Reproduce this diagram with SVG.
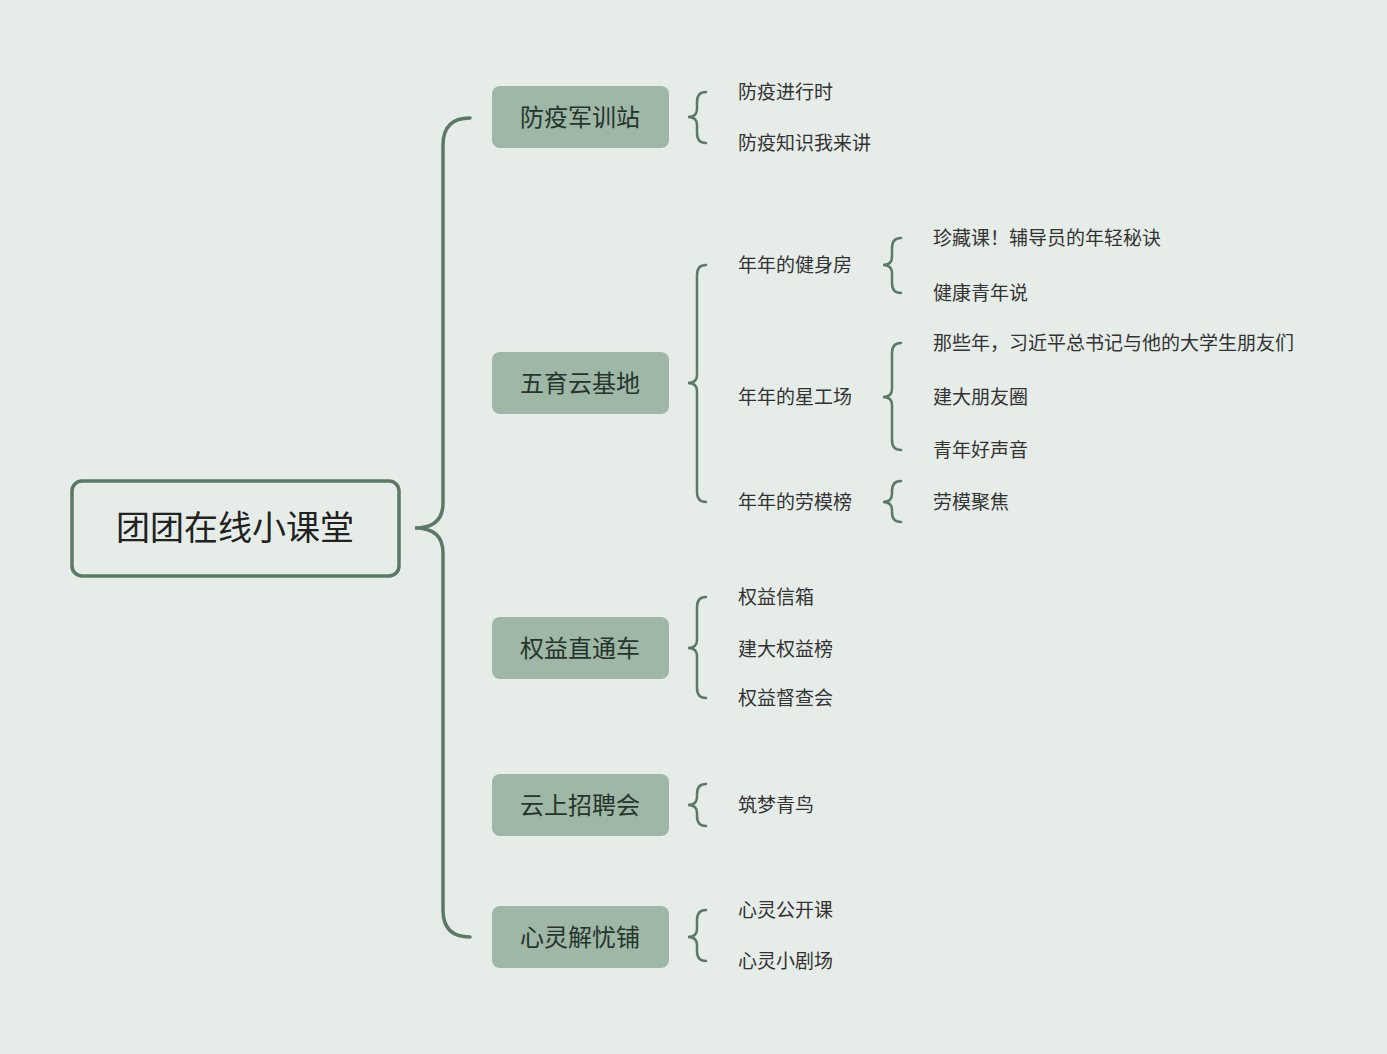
<svg xmlns="http://www.w3.org/2000/svg" width="1387" height="1054" viewBox="0 0 1387 1054">
<style>
.c{fill:none;stroke:#5b7a66;stroke-width:2.5;stroke-linecap:round}
.m{fill:none;stroke:#5b7a66;stroke-width:3.5;stroke-linecap:round}
.b{fill:#9fb7a6}
.t1{font-family:"Noto Sans CJK SC",sans-serif;font-size:24px;fill:#26352b;text-anchor:middle}
.t2{font-family:"Noto Sans CJK SC",sans-serif;font-size:19px;fill:#333}
</style>
<rect width="1387" height="1054" fill="#e6ece8"/>
<g id="connectors">
<path class="m" d="M470 118 Q443 118 443 145 L443 503 Q443 528 415 528 Q443 528 443 553 L443 910 Q443 937 470 937"/>
<path class="c" d="M706 92 Q697 92 697 102 L697 109 Q697 117 688 117 Q697 117 697 125 L697 133 Q697 143 706 143"/>
<path class="c" d="M706 265 Q697 265 697 275 L697 375 Q697 383 688 383 Q697 383 697 391 L697 492 Q697 502 706 502"/>
<path class="c" d="M706 597 Q697 597 697 607 L697 640 Q697 648 688 648 Q697 648 697 656 L697 688 Q697 698 706 698"/>
<path class="c" d="M706 784 Q697 784 697 794 L697 797 Q697 805 688 805 Q697 805 697 813 L697 816 Q697 826 706 826"/>
<path class="c" d="M706 910 Q697 910 697 920 L697 929 Q697 937 688 937 Q697 937 697 945 L697 951 Q697 961 706 961"/>
<path class="c" d="M901 238 Q892 238 892 248 L892 257 Q892 265 883 265 Q892 265 892 273 L892 283 Q892 293 901 293"/>
<path class="c" d="M901 343 Q892 343 892 353 L892 389 Q892 397 883 397 Q892 397 892 405 L892 440 Q892 450 901 450"/>
<path class="c" d="M901 481 Q892 481 892 491 L892 494 Q892 502 883 502 Q892 502 892 510 L892 512 Q892 522 901 522"/>
</g>
<g id="root"><rect x="72" y="481" width="327" height="95" rx="10" fill="#e6ece8" stroke="#5b7a66" stroke-width="3.5"/>
<text x="235" y="540" font-family="Noto Sans CJK SC,sans-serif" font-size="34" fill="#222" text-anchor="middle">团团在线小课堂</text></g>
<g id="n1"><rect class="b" x="492" y="86" width="177" height="62" rx="8"/><text class="t1" x="580" y="126">防疫军训站</text></g>
<g id="n2"><rect class="b" x="492" y="352" width="177" height="62" rx="8"/><text class="t1" x="580" y="392">五育云基地</text></g>
<g id="n3"><rect class="b" x="492" y="617" width="177" height="62" rx="8"/><text class="t1" x="580" y="657">权益直通车</text></g>
<g id="n4"><rect class="b" x="492" y="774" width="177" height="62" rx="8"/><text class="t1" x="580" y="814">云上招聘会</text></g>
<g id="n5"><rect class="b" x="492" y="906" width="177" height="62" rx="8"/><text class="t1" x="580" y="946">心灵解忧铺</text></g>
<g id="leaves">
<text class="t2" x="738" y="99">防疫进行时</text>
<text class="t2" x="738" y="150">防疫知识我来讲</text>
<text class="t2" x="738" y="272">年年的健身房</text>
<text class="t2" x="738" y="404">年年的星工场</text>
<text class="t2" x="738" y="509">年年的劳模榜</text>
<text class="t2" x="933" y="245">珍藏课！辅导员的年轻秘诀</text>
<text class="t2" x="933" y="300">健康青年说</text>
<text class="t2" x="933" y="350">那些年，习近平总书记与他的大学生朋友们</text>
<text class="t2" x="933" y="404">建大朋友圈</text>
<text class="t2" x="933" y="457">青年好声音</text>
<text class="t2" x="933" y="509">劳模聚焦</text>
<text class="t2" x="738" y="604">权益信箱</text>
<text class="t2" x="738" y="656">建大权益榜</text>
<text class="t2" x="738" y="705">权益督查会</text>
<text class="t2" x="738" y="812">筑梦青鸟</text>
<text class="t2" x="738" y="917">心灵公开课</text>
<text class="t2" x="738" y="968">心灵小剧场</text>
</g>
</svg>
